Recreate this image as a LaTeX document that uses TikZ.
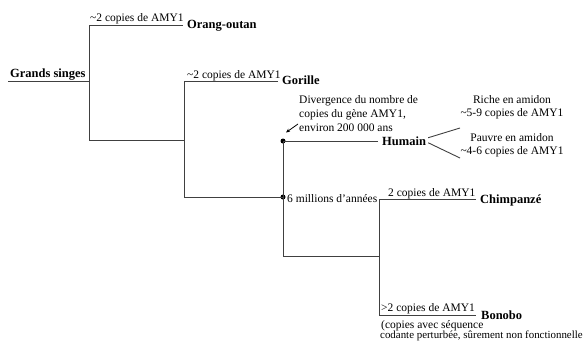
\documentclass[tikz,border=0pt]{standalone}
\usepackage{fontspec}
\setmainfont{Liberation Serif}
\usetikzlibrary{arrows.meta}
\begin{document}
\begin{tikzpicture}[x=1pt,y=-1pt,
  tree/.style={line width=1pt, draw=black!75},
  lbl/.style={font=\fontsize{11.5}{13}\selectfont, inner sep=0pt},
  sp/.style={font=\fontsize{12.5}{14}\selectfont\bfseries, inner sep=0pt},
  dotc/.style={circle, fill=black, inner sep=0pt, minimum size=5pt}]
\useasboundingbox (0,0) rectangle (583,340);
% coordinates of the tree
\coordinate (r0) at (8,81);
\coordinate (r1) at (89,81);
\coordinate (o0) at (89,25);
\coordinate (o1) at (183,25);
\coordinate (g0) at (89,140);
\coordinate (g1) at (184,140);
\coordinate (gt) at (184,81);
\coordinate (gt1) at (278,81);
\coordinate (gb) at (184,197);
\node[dotc] (hc) at (283,197) {};
\node[dotc] (hn) at (283,141) {};
\coordinate (h1) at (378,141);
\coordinate (cb0) at (283,256);
\coordinate (cb1) at (379,256);
\coordinate (ct) at (379,199);
\coordinate (ct1) at (476,199);
\coordinate (bt) at (379,315);
\coordinate (bt1) at (476,315);
% tree lines
\draw[tree] (r0) -- (r1);
\draw[tree] (o1) -- (o0) -- (g0) -- (g1);
\draw[tree] (gt1) -- (gt) -- (gb) -- (hc.center);
\draw[tree] (h1) -- (hn.center) -- (cb0) -- (cb1);
\draw[tree] (ct1) -- (ct) -- (bt) -- (bt1);
% species
\node[sp, anchor=base west] (gs) at (10,77) {Grands singes};
\node[sp, anchor=base west] (oo) at (187,28.5) {Orang-outan};
\node[sp, anchor=base west] (go) at (282,84.5) {Gorille};
\node[sp, anchor=base west] (hum) at (382,145) {Humain};
\node[sp, anchor=base west] (ch) at (480,203) {Chimpanzé};
\node[sp, anchor=base west] (bo) at (481,319) {Bonobo};
% labels
\node[lbl, anchor=base west] (lo) at (90,21) {\textasciitilde2 copies de AMY1};
\node[lbl, anchor=base west] (lg) at (187,78) {\textasciitilde2 copies de AMY1};
\node[lbl, anchor=base west] (lm) at (287,202) {6 millions d'années};
\node[lbl, anchor=base west] (lc) at (388,196) {2 copies de AMY1};
\node[lbl, anchor=base west] (lb) at (381,311.5) {>2 copies de AMY1};
\node[lbl, anchor=base west] (lb2) at (381,328) {(copies avec séquence};
\node[lbl, anchor=base west, font=\fontsize{10.9}{12}\selectfont] (lb3) at (380,338.5) {codante perturbée, sûrement non fonctionnelle};
\node[lbl, anchor=base west] (dv1) at (299,103) {Divergence du nombre de};
\node[lbl, anchor=base west] (dv2) at (299,117) {copies du gène AMY1,};
\node[lbl, anchor=base west] (dv3) at (299,131) {environ 200 000 ans};
\node[lbl, align=center, anchor=base] (ri) at (512,116) {Riche en amidon\\\textasciitilde5-9 copies de AMY1};
\node[lbl, align=center, anchor=base] (pa) at (512,154) {Pauvre en amidon\\\textasciitilde4-6 copies de AMY1};
% human branches
\coordinate (hb1) at (460,128);
\coordinate (hb2) at (460,158);
\draw[tree, line width=0.9pt] ([shift={(2,-3)}]hum.east) -- (hb1);
\draw[tree, line width=0.9pt] ([shift={(2,2)}]hum.east) -- (hb2);
% arrow
\coordinate (a0) at (298,124);
\coordinate (a1) at (286,132.5);
\draw[line width=0.8pt, -{Stealth[length=4pt,width=3.5pt]}] (a0) -- (a1);
\end{tikzpicture}
\end{document}
